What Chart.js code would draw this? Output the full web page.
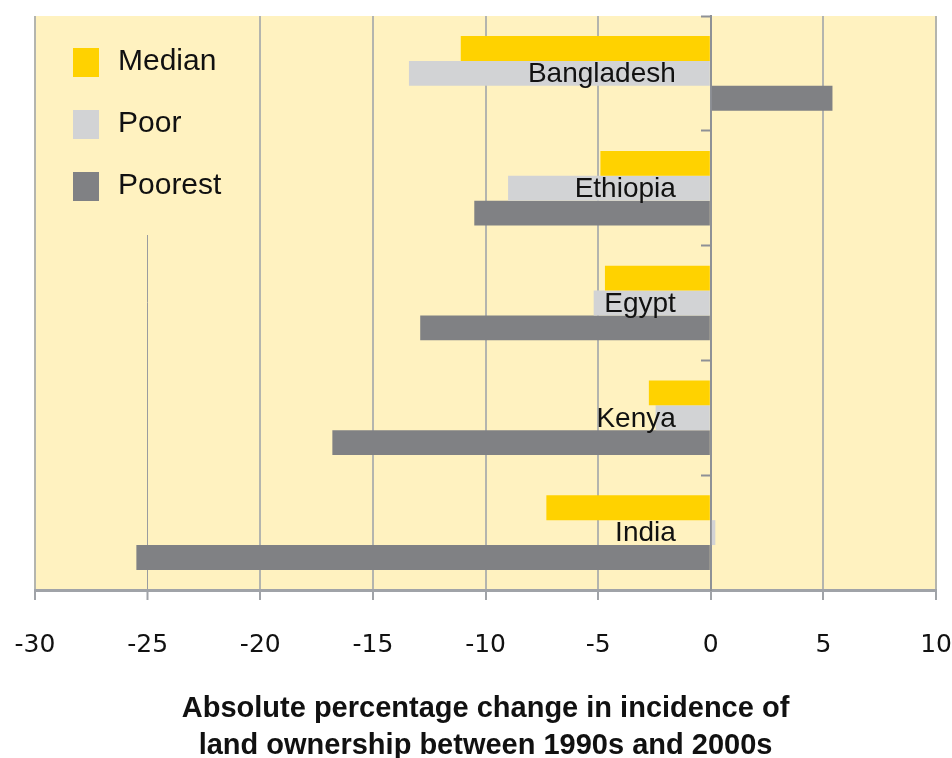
<!DOCTYPE html>
<html>
<head>
<meta charset="utf-8">
<script src="https://cdn.jsdelivr.net/npm/chart.js@4/dist/chart.umd.min.js"></script>
<style>
  html, body { margin: 0; padding: 0; background: #fff; }
  #wrap { width: 952px; height: 758px; }
</style>
</head>
<body>
<div id="wrap"><canvas id="landChart" width="952" height="758"></canvas></div>
<script>
// values
var countries = ['Bangladesh', 'Ethiopia', 'Egypt', 'Kenya', 'India'];
var medianVals = [-11.1, -4.9, -4.7, -2.75, -7.3];
var poorVals = [-13.4, -9.0, -5.2, -2.45, 0.2];
var poorestVals = [5.4, -10.5, -12.9, -16.8, -25.5];
var xTicks = [-30, -25, -20, -15, -10, -5, 0, 5, 10];

var plotBg = '#FFF2C0';

// yellow plot area
var plotBackground = {
	id: 'plotBackground',
	beforeDraw: function(chart){
		var a = chart.chartArea, ctx = chart.ctx;
		ctx.save();
		ctx.fillStyle = plotBg;
		ctx.fillRect(a.left, a.top, a.right - a.left, a.bottom - a.top);
		ctx.restore();
	}
};

// legend box in the top left corner, it sits on top of the grid
var boxLegend = {
	id: 'boxLegend',
	beforeDatasetsDraw: function(chart){
		var a = chart.chartArea, ctx = chart.ctx;
		ctx.save();
		ctx.fillStyle = plotBg;
		ctx.fillRect(a.left + 2, a.top, 214, 219);
		ctx.font = '30px "Liberation Sans", Arial, sans-serif';
		ctx.textBaseline = 'middle';
		chart.data.datasets.forEach(function(ds, i){
			var y = a.top + 32 + i * 62;
			ctx.fillStyle = ds.backgroundColor;
			ctx.fillRect(a.left + 38, y, 26, 29);
			ctx.fillStyle = '#111';
			ctx.fillText(ds.label, a.left + 83, y + 14);
		});
		ctx.restore();
	}
};

// country names sit left of the zero line
var countryLabels = {
	id: 'countryLabels',
	afterDatasetsDraw: function(chart){
		var yScale = chart.scales.y, xScale = chart.scales.x, ctx = chart.ctx;
		var x0 = xScale.getPixelForValue(0);
		ctx.save();
		ctx.font = '28px "Liberation Sans", Arial, sans-serif';
		ctx.fillStyle = '#111';
		ctx.textAlign = 'right';
		ctx.textBaseline = 'middle';
		countries.forEach(function(name, i){
			ctx.fillText(name, x0 - 35, yScale.getPixelForTick(i) + 1);
		});
		ctx.restore();
	}
};

var ctx = document.getElementById('landChart').getContext('2d');
var landChart = new Chart(ctx, {
	type: 'bar',
	data: {
		labels: countries,
		datasets: [{
			label: 'Median',
			data: medianVals,
			backgroundColor: '#FFD200'
		}, {
			label: 'Poor',
			data: poorVals,
			backgroundColor: '#D2D3D5'
		}, {
			label: 'Poorest',
			data: poorestVals,
			backgroundColor: '#808184'
		}]
	},
	options: {
		indexAxis: 'y',
		responsive: false,
		animation: false,
		datasets: {
			bar: {
				categoryPercentage: 0.65,
				barPercentage: 1.0,
				borderWidth: 0
			}
		},
		layout: {
			padding: { left: 35, right: 15, top: 16, bottom: -6 }
		},
		plugins: {
			legend: { display: false },
			tooltip: { enabled: false }
		},
		scales: {
			x: {
				min: -30,
				max: 10,
				afterBuildTicks: function(scale){
					scale.ticks = xTicks.map(function(v){ return { value: v }; });
				},
				grid: {
					color: function(c){ return c.tick && c.tick.value === -25 ? '#9A9C9F' : '#B4B5AE'; },
					lineWidth: function(c){ return c.tick && c.tick.value === -25 ? 1 : 2; },
					tickLength: 10,
					tickColor: '#A0A3A8',
					tickWidth: 2
				},
				border: { color: '#A0A3A8', width: 3 },
				ticks: {
					// padding also widens the side margins, so the gap comes from lineHeight
					padding: 0,
					color: '#111',
					font: { family: '"DejaVu Sans", sans-serif', size: 25, lineHeight: '90px' }
				},
				title: {
					display: true,
					text: ['Absolute percentage change in incidence of', 'land ownership between 1990s and 2000s'],
					color: '#111',
					padding: { top: 0, bottom: 0 },
					font: { family: '"Liberation Sans", Arial, sans-serif', size: 29, weight: 'bold', lineHeight: '37px' }
				}
			},
			y: {
				position: { x: 0 },
				z: 1,
				grid: {
					offset: true,
					drawOnChartArea: false,
					tickLength: 9,
					tickColor: '#8E9196',
					tickWidth: 2
				},
				border: { color: '#8E9196', width: 2 },
				ticks: { display: false }
			}
		}
	},
	plugins: [plotBackground, boxLegend, countryLabels]
});
</script>
</body>
</html>
